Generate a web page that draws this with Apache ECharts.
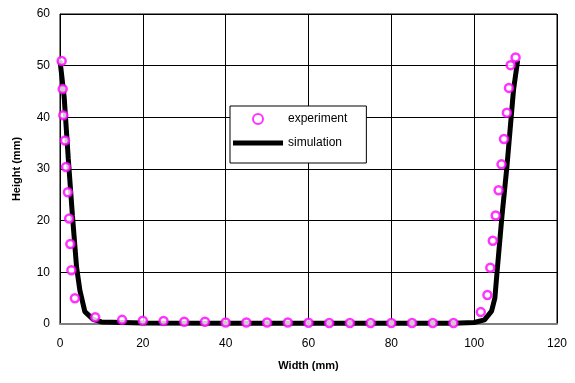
<!DOCTYPE html>
<html>
<head>
<meta charset="utf-8">
<script src="https://cdn.jsdelivr.net/npm/echarts@6/dist/echarts.min.js"></script>
<style>
  html, body { margin: 0; padding: 0; background: #fff; }
  #chart { width: 575px; height: 383px; }
</style>
</head>
<body>
<div id="chart"></div>
<script>
// measured points (mm)
const expX = [0.4, 0.65, 0.8, 1.2, 1.45, 1.9, 2.2, 2.5, 2.75, 3.6, 8.5,
  15, 20, 25, 30, 35, 40, 45, 50, 55, 60, 65, 70, 75, 80, 85, 90, 95,
  101.6, 103.2, 103.9, 104.5, 105.2, 105.9, 106.6, 107.2, 107.9, 108.4, 108.8, 110];
const expY = [50.9, 45.5, 40.4, 35.5, 30.4, 25.5, 20.4, 15.5, 10.4, 5.0, 1.3,
  0.8, 0.65, 0.6, 0.45, 0.45, 0.3, 0.3, 0.3, 0.3, 0.25, 0.2, 0.2, 0.2, 0.2, 0.2, 0.2, 0.2,
  2.3, 5.6, 10.9, 16.1, 21.0, 25.9, 30.9, 35.8, 40.9, 45.7, 50.1, 51.6];

// simulated profile
const simX = [0, 1, 2, 3, 4, 4.8, 6, 8, 10, 20, 40, 60, 80, 95, 100, 102.5, 104.2, 105, 105.5, 106.7, 107.9, 109.5, 110.5];
const simY = [51, 44, 32, 21, 11, 6.5, 2.4, 0.9, 0.4, 0.2, 0.15, 0.15, 0.15, 0.15, 0.3, 0.8, 2.5, 5, 9.8, 20.8, 30.4, 45.3, 51];

const font = "Liberation Sans, Arial, sans-serif";

const chart = echarts.init(document.getElementById("chart"));
chart.setOption({
  animation: false,
  grid: {
    left: 60,
    right: 18,
    top: 14,
    bottom: 59,
    show: true,
    borderColor: "#000",
    borderWidth: 1,
  },
  legend: {
    left: 230,
    top: 106,
    orient: "vertical",
    backgroundColor: "#fff",
    borderColor: "#000",
    borderWidth: 1,
    padding: [7, 19, 14, 3],
    itemGap: 12,
    itemWidth: 50,
    itemHeight: 10,
    textStyle: { fontFamily: font, fontSize: 12, color: "#000", padding: [0, 0, 0, 0] },
    data: [
      { name: "experiment" },
      { name: "simulation", icon: "path://M0,0H50V5H0Z", itemStyle: { color: "#000" } },
    ],
  },
  xAxis: {
    type: "value",
    min: 0,
    max: 120,
    interval: 20,
    name: "Width (mm)",
    nameLocation: "middle",
    nameGap: 36,
    nameTextStyle: { fontFamily: font, fontSize: 11, fontWeight: "bold", color: "#000" },
    axisLine: { lineStyle: { color: "#808080", width: 2 } },
    axisTick: { show: false },
    axisLabel: { fontFamily: font, fontSize: 12, color: "#000", margin: 14 },
    splitLine: { lineStyle: { color: "#000", width: 1 } },
  },
  yAxis: {
    type: "value",
    min: 0,
    max: 60,
    interval: 10,
    name: "Height (mm)",
    nameLocation: "middle",
    nameGap: 38,
    nameTextStyle: { fontFamily: font, fontSize: 11, fontWeight: "bold", color: "#000" },
    axisLine: { show: true, lineStyle: { color: "#000", width: 1 } },
    axisTick: { show: false },
    axisLabel: { fontFamily: font, fontSize: 12, color: "#000", margin: 10 },
    splitLine: { lineStyle: { color: "#000", width: 1 } },
  },
  series: [
    {
      name: "simulation",
      type: "line",
      data: simX.map((x, i) => [x, simY[i]]),
      showSymbol: false,
      symbol: "none",
      lineStyle: { color: "#000", width: 5 },
      itemStyle: { color: "#000" },
      z: 2,
    },
    {
      name: "experiment",
      type: "scatter",
      data: expX.map((x, i) => [x, expY[i]]),
      symbol: "circle",
      symbolSize: 8,
      itemStyle: { color: "#fff", borderColor: "#ff00ff", borderWidth: 2.5 },
      z: 3,
    },
  ],
});
</script>
</body>
</html>
